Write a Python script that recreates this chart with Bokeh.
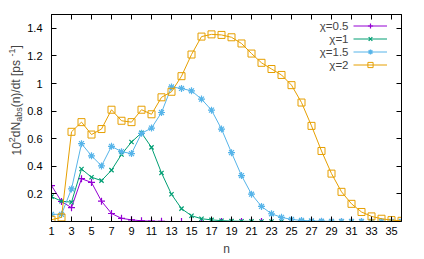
import math
from bokeh.plotting import figure
from bokeh.layouts import row
from bokeh.models import (ColumnDataSource, Range1d, FixedTicker, LinearAxis,
                          Label, Legend, LegendItem)
from bokeh.core.properties import value
from bokeh.embed import file_html
from bokeh.resources import INLINE

# ---------------- data ----------------
n = list(range(1, 37))
chi05 = [0.26, 0.145, 0.10, 0.31, 0.283, 0.147, 0.058, 0.023, 0.012, 0.005,
         0.002, 0.001, 0, 0, 0, 0, 0, 0, 0, 0, 0, 0, 0, 0, 0, 0, 0, 0, 0, 0,
         0, 0, 0, 0, 0, 0]
chi1 = [0.18, 0.147, 0.14, 0.38, 0.321, 0.296, 0.372, 0.486, 0.576, 0.642,
        0.537, 0.352, 0.197, 0.093, 0.042, 0.02, 0.012, 0.006, 0.003, 0.002,
        0.001, 0, 0, 0, 0, 0, 0, 0, 0, 0, 0, 0, 0, 0, 0, 0]
chi15 = [0.052, 0.052, 0.236, 0.564, 0.476, 0.403, 0.545, 0.506, 0.492, 0.639,
         0.677, 0.79, 0.975, 0.964, 0.947, 0.887, 0.807, 0.67, 0.499, 0.333,
         0.198, 0.109, 0.056, 0.03, 0.015, 0.008, 0.004, 0.002, 0.001, 0, 0,
         0, 0, 0, 0, 0]
chi2 = [0.013, 0.03, 0.65, 0.72, 0.63, 0.67, 0.81, 0.73, 0.72, 0.81, 0.777,
        0.90, 0.94, 1.053, 1.21, 1.34, 1.356, 1.352, 1.335, 1.29, 1.217, 1.15,
        1.105, 1.062, 0.988, 0.862, 0.693, 0.511, 0.347, 0.215, 0.128, 0.069,
        0.037, 0.02, 0.01, 0.005]

series_labels = ["χ=0.5", "χ=1", "χ=1.5", "χ=2"]
x_ticks = list(range(1, 36, 2))
y_ticks = [0.2, 0.4, 0.6, 0.8, 1.0, 1.2, 1.4]
y_tick_labels = {0.2: "0.2", 0.4: "0.4", 0.6: "0.6", 0.8: "0.8", 1.0: "1",
                 1.2: "1.2", 1.4: "1.4"}
x_title = "n"

# ---------------- styling ----------------
FONT = "Liberation Sans"
colors = ["#9400D3", "#009E73", "#56B4E9", "#E69F00"]
markers = ["cross", "x", "asterisk", "square"]
msizes = [7, 6, 7, 7]

p = figure(width=400, height=259, output_backend="svg", toolbar_location=None,
           x_range=Range1d(1, 36), y_range=Range1d(0, 1.5),
           min_border_left=26, min_border_right=23, min_border_top=14,
           min_border_bottom=38)
p.background_fill_color = "white"
p.border_fill_color = "white"
p.outline_line_color = "black"
p.outline_line_width = 1
p.grid.visible = False

for ax in (p.xaxis[0], p.yaxis[0]):
    ax.major_tick_in = 5
    ax.major_tick_out = 0
    ax.minor_tick_line_color = None
    ax.axis_line_color = "black"
    ax.major_tick_line_color = "black"
    ax.major_label_text_font = FONT
    ax.major_label_text_font_size = "11px"
    ax.major_label_text_color = "black"

p.xaxis[0].ticker = FixedTicker(ticks=x_ticks)
p.xaxis[0].major_label_standoff = 5
p.xaxis[0].axis_label = x_title
p.xaxis[0].axis_label_text_font = FONT
p.xaxis[0].axis_label_text_font_size = "12px"
p.xaxis[0].axis_label_text_font_style = "normal"
p.xaxis[0].axis_label_standoff = 4
p.yaxis[0].ticker = FixedTicker(ticks=y_ticks)
p.yaxis[0].major_label_overrides = y_tick_labels
p.yaxis[0].major_label_standoff = 9

# mirrored tick axes (ticks only)
for loc, tk in (("above", x_ticks), ("right", y_ticks)):
    ax = LinearAxis(ticker=FixedTicker(ticks=tk), major_tick_in=5,
                    major_tick_out=0, minor_tick_line_color=None,
                    major_label_overrides={t: "" for t in tk},
                    major_label_text_font_size="6px", major_label_standoff=0,
                    axis_line_color="black", major_tick_line_color="black")
    p.add_layout(ax, loc)

src = ColumnDataSource(dict(n=n, c05=chi05, c1=chi1, c15=chi15, c2=chi2))
items = []
for key, col, mk, ms in zip(["c05", "c1", "c15", "c2"], colors, markers,
                            msizes):
    l = p.line("n", key, source=src, line_color=col, line_width=1)
    if mk == "square":
        s = p.scatter("n", key, source=src, marker=mk, size=ms,
                      line_color=col, fill_color=None, line_width=1)
    else:
        s = p.scatter("n", key, source=src, marker=mk, size=ms,
                      line_color=col, line_width=1.2)
    items.append(LegendItem(label=value(""), renderers=[l, s]))

# legend samples (text drawn separately, right-aligned like gnuplot)
legend = Legend(items=items, location=(301.5, 150.5), padding=0, margin=0,
                spacing=0, glyph_width=34, glyph_height=13, label_height=13,
                label_width=0, label_standoff=0,
                border_line_alpha=0, background_fill_alpha=0)
p.add_layout(legend)
for i, lab in enumerate(series_labels):
    p.add_layout(Label(x=297, y=196 - 13 * i, x_units="screen",
                       y_units="screen", text=lab, text_font=FONT,
                       text_font_size="11.5px", text_align="right",
                       text_baseline="middle"))

# y-axis title (rotated, with super/subscripts) in a narrow side figure
yl = figure(width=24, height=259, output_backend="svg", toolbar_location=None,
            x_axis_type=None, y_axis_type=None, min_border=0,
            x_range=Range1d(0, 1), y_range=Range1d(0, 1))
yl.outline_line_color = None
yl.grid.visible = False
yl.background_fill_color = "white"
yl.border_fill_color = "white"

W = {'0': 556, '1': 556, '2': 556, '.': 278, 'd': 556, 'N': 722, 'a': 556,
     'b': 556, 's': 500, '(': 333, ')': 333, 'n': 556, '/': 278, 't': 278,
     ' ': 278, '[': 278, ']': 278, 'p': 556, '-': 333}
pieces = [("10", 12, 0), ("2", 9, -4), ("dN", 12, 0), ("abs", 9, 3),
          ("(n)/dt  [ps", 12, 0), ("-1", 9, -4), ("]", 12, 0)]
ystart = 66.0
xbase = 15.5
for txt, fs, dx in pieces:
    yl.add_layout(Label(x=xbase + dx, y=ystart, x_units="screen",
                        y_units="screen", text=txt, angle=math.pi / 2,
                        text_font=FONT, text_font_size=f"{fs}px",
                        text_align="left", text_baseline="middle"))
    ystart += sum(W[c] for c in txt) * fs / 1000.0

layout = row(yl, p)
open("out.html", "w").write(file_html(layout, INLINE))
